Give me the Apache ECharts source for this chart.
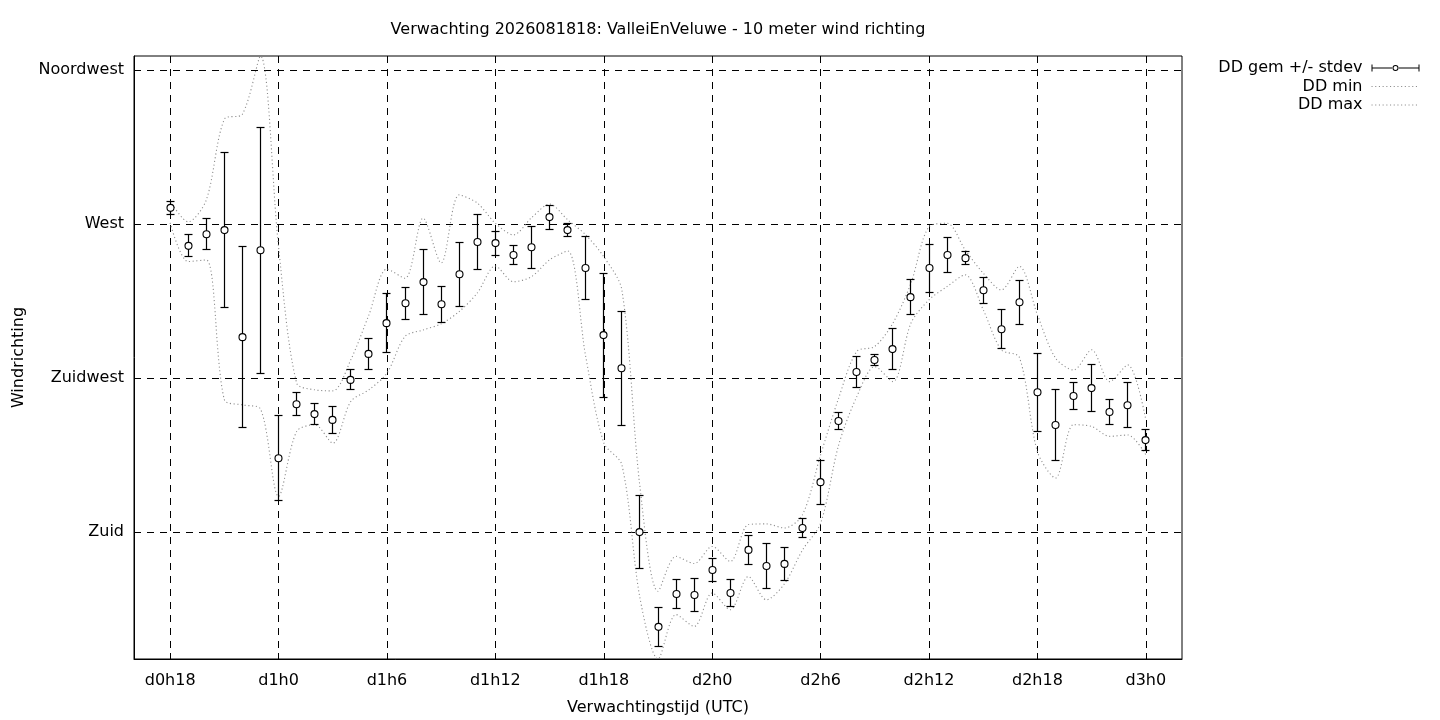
<!DOCTYPE html>
<html>
<head>
<meta charset="utf-8">
<script src="https://cdn.jsdelivr.net/npm/echarts@6/dist/echarts.min.js"></script>
<style>
  html, body { margin: 0; padding: 0; background: #fff; }
  #main { width: 1440px; height: 720px; }
</style>
</head>
<body>
<div id="main"></div>
<script>
// Forecast hours since d0h0
const hours = [18, 19, 20, 21, 22, 23, 24, 25, 26, 27, 28, 29, 30, 31, 32, 33, 34, 35, 36,
  37, 38, 39, 40, 41, 42, 43, 44, 45, 46, 47, 48, 49, 50, 51, 52, 53, 54, 55, 56, 57, 58,
  59, 60, 61, 62, 63, 64, 65, 66, 67, 68, 69, 70, 71, 72];

// DD gem (mean wind direction, degrees)
const ddMean = [274.7, 263.6, 267.0, 268.2, 236.9, 262.3, 201.5, 217.3, 214.4, 212.7,
  224.4, 232.0, 241.0, 246.8, 253.0, 246.5, 255.3, 264.7, 264.4, 260.9,
  263.2, 272.0, 268.2, 257.1, 237.5, 227.8, 179.9, 152.2, 161.8, 161.5,
  168.8, 162.1, 174.7, 170.0, 170.6, 181.1, 194.5, 212.4, 226.7, 230.2,
  233.4, 248.6, 257.1, 260.9, 260.0, 250.6, 239.2, 247.1, 220.8, 211.2,
  219.7, 222.0, 215.0, 217.0, 206.8];

// stdev (degrees)
const ddStdev = [2.0, 3.2, 4.5, 22.6, 26.5, 36.0, 12.4, 3.4, 3.0, 3.9,
  2.9, 4.6, 8.7, 4.7, 9.6, 5.2, 9.4, 8.0, 3.5, 2.9,
  6.1, 3.5, 1.8, 9.2, 18.1, 16.7, 10.6, 5.8, 4.2, 4.8,
  3.4, 4.0, 4.2, 6.5, 4.9, 2.8, 6.4, 2.6, 4.5, 1.7,
  6.1, 5.1, 7.0, 5.1, 2.0, 3.8, 5.7, 6.4, 11.4, 10.3,
  4.0, 6.8, 3.6, 6.5, 3.0];

// DD min (degrees)
const ddMin = [270.3, 259.0, 259.5, 218.6, 217.1, 215.9, 190.3, 209.3, 211.3, 205.9,
  218.1, 221.5, 226.4, 237.1, 239.0, 240.8, 244.4, 249.8, 257.7, 253.1,
  254.6, 259.5, 262.1, 231.2, 206.0, 199.6, 160.7, 142.8, 155.8, 152.3,
  162.1, 157.2, 166.9, 160.1, 164.8, 174.7, 182.5, 205.4, 219.5, 228.3,
  223.9, 241.0, 247.8, 251.7, 255.1, 244.9, 233.2, 231.0, 203.4, 195.7,
  211.3, 210.8, 207.9, 208.3, 202.5];

// DD max (degrees)
const ddMax = [276.7, 270.6, 277.0, 300.6, 302.1, 319.1, 263.3, 223.5, 221.5, 221.2,
  230.3, 243.4, 256.8, 254.1, 271.7, 258.6, 278.5, 276.1, 270.2, 266.8,
  271.8, 275.8, 271.2, 266.8, 260.4, 250.7, 193.2, 162.6, 172.8, 170.7,
  175.7, 171.3, 182.1, 182.3, 181.1, 185.0, 202.5, 219.1, 232.7, 234.2,
  241.0, 252.7, 269.2, 270.2, 262.4, 255.6, 250.7, 257.6, 243.4, 230.8,
  227.3, 233.2, 223.9, 228.8, 212.7];

// Tick values and labels
const xTickValues = [18, 24, 30, 36, 42, 48, 54, 60, 66, 72];
const xTickLabels = ['d0h18', 'd1h0', 'd1h6', 'd1h12', 'd1h18', 'd2h0', 'd2h6', 'd2h12', 'd2h18', 'd3h0'];
const yTickValues = [180, 225, 270, 315];
const yTickLabels = ['Zuid', 'Zuidwest', 'West', 'Noordwest'];

const titleText = 'Verwachting 2026081818: ValleiEnVeluwe - 10 meter wind richting';
const FONT = 'DejaVu Sans';
const FS = 16;

const errData = hours.map((h, i) => [h, ddMean[i], ddStdev[i]]);
const minData = hours.map((h, i) => [h, ddMin[i]]);
const maxData = hours.map((h, i) => [h, ddMax[i]]);

const errIcon = 'path://M0 1H1V8H0Z M0 4H20.6V5H0Z M27.4 4H48V5H27.4Z M47 1H48V8H47Z ' +
  'M27 4.5A3 3 0 1 0 21 4.5A3 3 0 1 0 27 4.5Z M26 4.5A2 2 0 1 1 22 4.5A2 2 0 1 1 26 4.5Z';

const chart = echarts.init(document.getElementById('main'), null, { renderer: 'canvas' });

const dotStyle = { color: '#8c8c8c', width: 1.1, type: [1.1, 2.6] };

const snap = v => Math.round(v - 0.5) + 0.5;

chart.setOption({
  animation: false,
  backgroundColor: '#fff',
  textStyle: { fontFamily: FONT, color: '#000' },
  title: {
    text: titleText,
    left: 658,
    top: 22,
    padding: 0,
    textAlign: 'center',
    textStyle: { fontFamily: FONT, fontSize: FS, fontWeight: 'normal', color: '#000' }
  },
  legend: {
    orient: 'vertical',
    right: 20,
    top: 59,
    align: 'right',
    itemWidth: 48,
    itemHeight: 7,
    itemGap: 0.5,
    padding: 0,
    selectedMode: false,
    lineStyle: { width: 1 },
    textStyle: { fontFamily: FONT, fontSize: FS, color: '#000', lineHeight: 18, padding: [0, 4, 0, 0] },
    data: [
      { name: 'DD gem +/- stdev', icon: errIcon, itemStyle: { color: '#000' } },
      { name: 'DD min', itemStyle: { opacity: 0 } },
      { name: 'DD max', itemStyle: { opacity: 0 } }
    ]
  },
  grid: {
    left: 134, right: 258, top: 56, bottom: 61,
    show: true, borderColor: '#000', borderWidth: 1,
    containLabel: false,
    outerBoundsMode: 'none'
  },
  xAxis: {
    type: 'value',
    min: 16,
    max: 74,
    name: 'Verwachtingstijd (UTC)',
    nameLocation: 'middle',
    nameGap: 41,
    nameTextStyle: { fontFamily: FONT, fontSize: FS, color: '#000' },
    axisLine: { show: true, lineStyle: { color: '#000', width: 1 } },
    axisTick: { show: true, inside: true, length: 6, lineStyle: { color: '#000' }, customValues: xTickValues },
    axisLabel: {
      customValues: xTickValues,
      margin: 14,
      fontFamily: FONT, fontSize: FS, color: '#000',
      formatter: v => xTickLabels[xTickValues.indexOf(v)]
    },
    splitLine: { show: true, lineStyle: { color: '#000', width: 1, type: [7, 6] } }
  },
  yAxis: {
    type: 'value',
    min: 142.8,
    max: 319.1,
    name: 'Windrichting',
    nameLocation: 'middle',
    nameGap: 107,
    nameTextStyle: { fontFamily: FONT, fontSize: FS, color: '#000' },
    axisLine: { show: true, lineStyle: { color: '#000', width: 1 } },
    axisTick: { show: true, inside: true, length: 6, lineStyle: { color: '#000' }, customValues: yTickValues },
    axisLabel: {
      customValues: yTickValues,
      margin: 10,
      padding: [2, 0, 0, 0],
      fontFamily: FONT, fontSize: FS, color: '#000',
      formatter: v => yTickLabels[yTickValues.indexOf(v)]
    },
    splitLine: { show: true, lineStyle: { color: '#000', width: 1, type: [7, 6] } }
  },
  series: [
    {
      name: 'DD gem +/- stdev',
      type: 'custom',
      z: 5,
      itemStyle: { color: '#000' },
      encode: { x: 0, y: 1 },
      data: errData,
      renderItem: function (params, api) {
        const x = api.value(0), m = api.value(1), s = api.value(2);
        const top = api.coord([x, m + s]);
        const bot = api.coord([x, m - s]);
        const c = api.coord([x, m]);
        const hw = 4;
        const px = snap(c[0]);
        const ty = snap(top[1]), by = snap(bot[1]);
        const st = { stroke: '#000', lineWidth: 1.2 };
        return {
          type: 'group',
          children: [
            { type: 'line', shape: { x1: px, y1: ty, x2: px, y2: by }, style: st },
            { type: 'line', shape: { x1: px - hw, y1: ty, x2: px + hw, y2: ty }, style: st },
            { type: 'line', shape: { x1: px - hw, y1: by, x2: px + hw, y2: by }, style: st },
            { type: 'circle', shape: { cx: px, cy: c[1], r: 3.5 }, style: { fill: '#fff', stroke: '#000', lineWidth: 1.1 } }
          ]
        };
      }
    },
    {
      name: 'DD min',
      type: 'line',
      data: minData,
      symbol: 'none',
      smooth: 0.3,
      clip: true,
      z: 3,
      itemStyle: { color: '#8c8c8c' },
      lineStyle: dotStyle
    },
    {
      name: 'DD max',
      type: 'line',
      data: maxData,
      symbol: 'none',
      smooth: 0.3,
      clip: true,
      z: 3,
      itemStyle: { color: '#8c8c8c' },
      lineStyle: dotStyle
    }
  ]
});
</script>
</body>
</html>
